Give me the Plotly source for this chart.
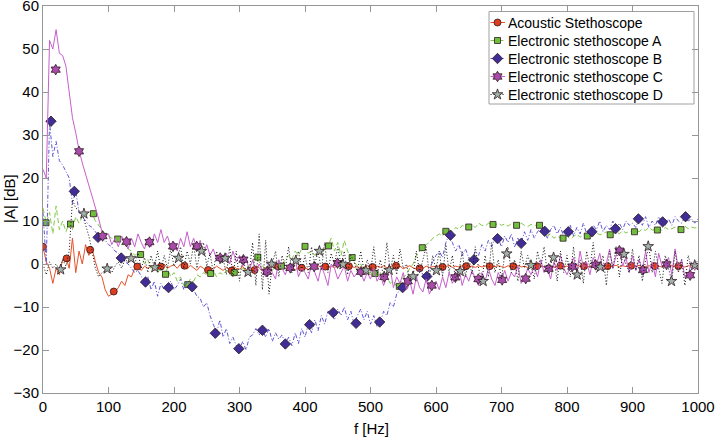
import plotly.graph_objects as go

# frequency grid of the sampled curves (Hz)
freq = list(range(0, 1001, 5))

acoustic = [
    4, 0.5, -1, -4.5, -1, -2.5, 1, 1.5, -1, 6, -2, 3, 0, 4.5, 2, 3.5, 0.5, -2, -3, -6,
    -7.5, -7, -6.5, -5.5, -4, -5, -2.5, -3, -1, -0.5, -1.5, -0.5, -1, -0.5, -1.5, -0.5, -1, 0, -1, -0.5,
    -0.2, -1, 0, -0.5, -1.2, -0.3, -1, -1.5, -0.5, -1, -1.8, -0.8, -1.2, -0.5, -1, -1.5, -0.8, -1.2, -0.5, -1,
    -1.2, -0.6, -1.5, -1, -1.4, -0.4, -0.9, -1.6, -0.8, -1.2, -0.5, -1, -1.3, -0.7, -1.1, -0.6, -0.9, -1.4, -0.8, -0.5,
    -0.9, -1.3, -0.6, -1, -0.4, -0.8, -0.6, -1.1, -0.5, -0.9, -0.3, -0.7, -0.5, -1, -0.4, -0.8, -0.6, -1.1, -0.7, -0.4,
    -0.7, -1, -0.5, -0.8, -0.4, -0.9, -0.6, -0.3, -0.8, -0.5, -1.1, -0.7, -0.4, -0.9, -1.2, -0.6, -1, -0.5, -0.8, -0.6,
    -0.7, -0.4, -0.9, -0.6, -0.3, -0.8, -0.5, -0.7, -0.4, -0.9, -0.6, -0.5, -0.8, -0.4, -0.7, -0.5, -0.3, -0.8, -0.6, -0.4,
    -0.6, -0.8, -0.4, -0.7, -0.5, -0.3, -0.7, -0.5, -0.8, -0.4, -0.6, -0.5, -0.3, -0.7, -0.5, -0.4, -0.8, -0.5, -0.3, -0.6,
    -0.5, -0.7, -0.4, -0.3, -0.6, -0.5, -0.8, -0.4, -0.6, -0.3, -0.5, -0.7, -0.4, -0.6, -0.5, -0.3, -0.7, -0.4, -0.6, -0.5,
    -0.4, -0.6, -0.3, -0.7, -0.5, -0.4, -0.6, -0.3, -0.5, -0.7, -0.4, -0.5, -0.3, -0.6, -0.4, -0.5, -0.7, -0.4, -0.5, -0.3,
    -0.5,
]

steth_a = [
    13, 9.6, 12, 7, 13.5, 8, 10, 7.5, 9.5, 8, 11, 9.5, 11, 12, 11, 11.8, 10, 9, 8, 7,
    6.5, 6, 5.8, 5.5, 4.5, 4.5, 3.5, 3, 2, 2.5, 2, 0, 1, -1, 0, -2, -1, -2.5, -1, -3,
    -2, -4, -3, -5, -4.8, -3.5, -4, -2.5, -3, -2, -2.5, -2.2, -1.5, -3, -2, -2.5, -1.5, -2.5, -2, -1.5,
    -2, -1, -1.5, -0.5, 0.5, 1.5, 0.5, -0.5, -1, 0, -1.5, -0.5, -1, 0, 1, 2, 1, 3, 2, 3.5,
    4, 2.5, 3, 2, 3.5, 2.5, 4.5, 4.2, 6, 3, 5, 2, 5.5, 3, 1.5, 0.5, -0.5, 0, -1.5, -1,
    -2.5, -2.2, -3, -2, -3.5, -3, -4.5, -4, -5.2, -5, -3, -2.5, -1, 0, 2, 3, 3.8, 4.5, 5, 6,
    6.5, 7, 6.5, 7.6, 8, 7.5, 8.5, 8, 9, 8.5, 8.6, 9, 8.5, 9.5, 9, 8.8, 9.5, 9.2, 9, 9.5,
    9, 9.3, 8.8, 9.4, 9, 9, 9.5, 9, 8.7, 9.2, 9, 9, 8.5, 7.5, 6.5, 7, 6, 6.5, 6, 6,
    6.5, 5.8, 6.5, 7, 6.2, 6.8, 6.5, 7, 6.5, 7.2, 6.8, 7, 7.5, 6.8, 7.2, 7.5, 7, 7.8, 7.2, 7.6,
    7.5, 8, 7.5, 8.2, 7.8, 8.5, 7.9, 8, 8.3, 7.8, 8.5, 8, 8.2, 8.6, 8, 8.3, 8.8, 8.2, 8.6, 8.4,
    8.5,
]

steth_b = [
    12, 0, 33, 25, 28.5, 24, 23, 21.5, 20, 14, 17, 12, 11, 10, 9, 8.5, 7.5, 6.5, 6, 5.5,
    4.5, 4, 3, 2.5, 1.5, 0.5, 0, -1, -2, -1.5, -3, -4.2, -3, -6, -4, -7.5, -4.5, -6, -5.5, -4,
    -6, -5, -3.5, -6, -4, -5.3, -6, -7.5, -8, -10, -9, -12, -14, -16, -13, -17, -15, -18.5, -17, -19,
    -19.7, -18, -20, -17, -16.5, -15, -16.5, -15.4, -17, -15, -18, -16, -17.5, -16.5, -18.6, -17, -19, -16, -18.5, -15,
    -17, -14, -16, -13, -15.5, -12, -14, -11, -11.3, -13, -10.5, -12, -10, -13, -11, -14, -12, -10.5, -13, -11,
    -14, -12, -14.5, -13.5, -11, -12, -9, -10, -7, -6, -5.5, -4, -5, -2, -3.5, -1, -2.5, -2.9, -1, 0.5,
    2, 3, 1.5, 5, 6.7, 5, 3, 4.5, 2, 3.5, 1.5, 1, 3, 2, 4.5, 3, 5.5, 4, 6, 5.9,
    4, 6.5, 5, 7, 4, 6, 4.8, 7.5, 5.5, 8, 6, 7.5, 8.5, 7.6, 6, 8, 9, 7, 8.5, 6.5,
    7.5, 9, 6.5, 8.5, 7, 9.5, 7, 7.5, 9, 8, 10, 7.5, 9, 8, 10, 8.2, 9.5, 8, 10, 9,
    9.5, 8.5, 10.5, 9, 11, 8.5, 10, 9, 11, 9.8, 9, 10.5, 9, 11, 10, 9.5, 11, 10, 10.5, 9.5,
    10.5,
]

steth_c = [
    22, 20, 52, 50, 54.5, 49, 48.5, 46, 40, 34, 30.5, 26.5, 23.5, 21, 18, 16, 13, 10.5, 7.5, 6.5,
    7, 4.5, 6, 4, 6.5, 5, 3.5, 6, 4, 7, 5, 3.5, 6, 4, 7, 5, 8, 5, 6.5, 4,
    5, 3, 6, 4, 7.5, 4, 6, 3.5, 5.5, 2.5, 4.5, 2, 3.5, 1, 2, 0.5, 2.5, 0, 3, 0.5,
    2, -0.5, 1.5, -1.5, 1, -2, 0, -1.5, -3, 0.5, -2, -3.5, 1, -1, -2.5, 0, -1.5, 1.5, -3, -1,
    -2, -3.5, 0, -2, -4, -0.5, -2.5, -5, 0, -1, -3.5, -2, -0.5, -4, -1.5, -3, -2, -1.8, -4, -2,
    -3.5, -1, -4, -2.5, -5, -3, -1, -5.5, -3, -4.5, -2, -6, -4, -7, -3, -5.5, -6.5, -3.5, -7, -5,
    -4, -6, -3, -5.5, -2, -4.5, -3, -1, -5, -2.5, -4, -1.5, -3.5, -5, -2, -4, -1, -3.5, -5, -2,
    -3.7, -1.5, -4, -2, -3, -0.5, -4.5, -3.4, -1, -2.5, -0.5, -3, 1, -2, -1, -3.5, 0.5, -1.5, 2, -1,
    -2.5, -0.6, 1.5, -2, 3, -1, 0.5, -2.5, 1.5, -0.2, 2.5, -1.5, 0, 3.5, -1, 2, 3.1, -0.5, 1.5, -2,
    2, -1.5, 1, -1.4, 3, -2, 0.5, -3, 2.5, -0.5, -0.1, 1.5, -2.5, 3.5, -1, 1, -3, -2.6, 0.5, -1.5,
    0,
]

steth_d = [
    0, -2.5, 0.5, -1, 0, -1.3, 1, -0.5, 3, 15, 13, 12.5, 11.7, 9, 6.5, 3, -1, -3, -2, -1.5,
    -1, -2, -0.5, 0.5, -1, 1, 0.5, 1.5, 0, 2.5, -1, 1.5, -2, 2, -0.8, 3, -1.5, 2, -1, 3.5,
    -0.5, 1.4, 4, -1, 3, 0, 4.5, -1, 3, 5, -0.5, 2.5, -2, 3, 0, 1.3, -2.5, 4, -3, 3,
    -4, 2, -2, -1.8, 5, -5, 7, -6, 5.5, -7, 0, 3, -3, 2, -1, 4, -2, 0.8, 3, -1.5,
    2, -2, 4, 0, 3, -1.5, 5, -2, 2.5, 0, 4, -0.1, 3, -2.5, 2, 0.5, -2, 3, -1.5, 1,
    -2, 4, -2.5, 1, -3, 5, -1.4, 2, -2.5, 3.5, -1, 0, -4, -2.9, 3, -2, 1, 4, -3, 2,
    -1.5, 3, -3, 4.5, -2, 2, -4, -1.7, 3, -3, 1.5, -2.5, 4, -1, -4, 2, -3, 5, -2, 1,
    -3.5, 2.4, 4, -2, 1, -4, 3, -1, 2, -0.3, -3.5, 3, -1, 4, -2, 0, 1.5, -4, 3, -2,
    2, -3, 4, -2.5, 1, -4.5, 3, -1, 5, -2, -0.7, 2, -5, 3, -1, 4, -3, 2.3, 0, -2,
    3.5, -1.5, 2, -4, 1, 4, -2, 3, -1, -4.5, 2, -1, -4, 3, -2, 1, -5, 2, -1, -0.3,
    1,
]

# marker positions (Hz) and levels (dB)
acoustic_mk_f = [0, 36, 72, 108, 144, 180, 216, 252, 288, 323, 359, 395, 431, 467,
                 503, 539, 575, 610, 646, 682, 718, 754, 790, 826, 862, 898, 934, 970]
acoustic_mk_db = [4, 1.3, 3.3, -6.4, -0.6, -0.6, -0.4, -1.4, -1.5, -1.4, -0.6, -0.9, -0.6, -0.5,
                  -0.7, -0.4, -1, -0.7, -0.5, -0.5, -0.5, -0.5, -0.4, -0.5, -0.5, -0.4, -0.5, -0.5]

a_mk_f = [4.6, 42, 77, 114, 149, 187, 221, 256, 292, 328, 364, 400, 436, 472,
          507, 544, 579, 615, 650, 687, 723, 758, 794, 831, 866, 903, 938, 974]
a_mk_db = [9.6, 9.3, 11.7, 5.8, 2.2, -2.4, -4.8, -2.2, -2, 1.6, -0.5, 4.1, 4.2, 1.5,
           -2.2, -5.2, 3.8, 7.6, 8.6, 9.2, 9.0, 9.0, 6, 6.5, 6.8, 7.5, 7.9, 8.0]

b_mk_f = [12.2, 47.8, 84, 119.5, 156.5, 191.6, 227.7, 263, 299, 335, 370, 407, 443, 478,
          514, 549, 586, 622, 658, 694, 730, 766, 802, 838, 874, 909, 946, 981]
b_mk_db = [33.2, 16.9, 6.2, 1.4, -4.2, -5.5, -5.3, -16.1, -19.7, -15.4, -18.6, -14.1, -11.3, -13.8,
           -13.5, -5.5, -2.9, 6.7, 1.0, 5.9, 4.8, 7.6, 7.5, 7.5, 8.2, 10.5, 9.8, 11.0]

c_mk_f = [19.4, 55, 91, 127.5, 162.6, 198.5, 234.7, 270.5, 306, 342, 377.6, 414, 449.7, 485.5,
          521, 557, 593.6, 629.6, 664.6, 701, 737, 772, 808, 843.6, 880, 916, 952, 988]
c_mk_db = [45.2, 26.2, 6.5, 5.2, 5.1, 4.1, 4.1, 1.4, 1.0, -1.8, -0.9, -0.6, 0.2, -1.8,
           -3, -4, -5, -3.1, -3.5, -3.7, -3.4, -1.1, -0.6, -0.2, 3.1, -1.4, -0.1, -2.6]

d_mk_f = [27, 62.5, 98, 134.5, 170.8, 207, 242, 278, 313, 349, 386, 422, 458, 493,
          528.5, 565, 600.6, 637, 672, 708, 745, 779.5, 815.6, 851, 887, 924, 959.5, 995]
d_mk_db = [-1.3, 11.7, -1.1, 1.3, -0.8, 1.4, 3.0, 1.3, -1.9, 0, 0.8, 3, -0.1, -1.5,
           -1.4, -2.9, -1.5, -1.7, -4, 2.4, -0.3, 1.5, -2.5, -0.7, 2.3, 4.1, -4, -0.3]

series_names = ["Acoustic Stethoscope", "Electronic stethoscope A", "Electronic stethoscope B",
                "Electronic stethoscope C", "Electronic stethoscope D"]
x_ticks = [0, 100, 200, 300, 400, 500, 600, 700, 800, 900, 1000]
y_ticks = [-30, -20, -10, 0, 10, 20, 30, 40, 50, 60]

FONT = "Arial, Liberation Sans, sans-serif"
EDGE = "rgb(45,25,30)"
styles = [
    dict(line="rgb(232,80,40)", dash="solid", sym="circle", fill="rgb(222,62,32)", size=7),
    dict(line="rgb(130,200,70)", dash="5px,3px", sym="square", fill="rgb(112,190,62)", size=6),
    dict(line="rgb(95,85,215)", dash="4px,2px,1px,2px", sym="diamond", fill="rgb(65,45,150)", size=8),
    dict(line="rgb(198,95,205)", dash="solid", sym="hexagram", fill="rgb(168,75,170)", size=8),
    dict(line="rgb(20,20,20)", dash="1px,2px", sym="star", fill="rgb(160,178,170)", size=8),
]
curves = [acoustic, steth_a, steth_b, steth_c, steth_d]
markers = [(acoustic_mk_f, acoustic_mk_db), (a_mk_f, a_mk_db), (b_mk_f, b_mk_db),
           (c_mk_f, c_mk_db), (d_mk_f, d_mk_db)]

fig = go.Figure()
for name, y, (mf, mdb), st in zip(series_names, curves, markers, styles):
    fig.add_trace(go.Scatter(x=freq, y=y, mode="lines", name=name, showlegend=False,
                             line=dict(color=st["line"], width=1, dash=st["dash"])))
    fig.add_trace(go.Scatter(x=mf, y=mdb, mode="markers", name=name, showlegend=False,
                             marker=dict(symbol=st["sym"], size=st["size"], color=st["fill"],
                                         line=dict(color=EDGE, width=0.8))))

# ---- hand-drawn MATLAB-style legend on an overlay axis measured in pixels ----
L, R, T, B = 43, 698, 6, 393          # plot-area pixel box
box_x0, box_x1, box_y0, box_y1 = 489, 694, 11.5, 104
row_y = [22.5, 40.5, 58.5, 76.5, 94.5]
fig.add_trace(go.Scatter(x=[box_x0, box_x1, box_x1, box_x0, box_x0],
                         y=[box_y0, box_y0, box_y1, box_y1, box_y0],
                         xaxis="x2", yaxis="y2", mode="lines", fill="toself",
                         fillcolor="white", line=dict(color="rgb(160,160,160)", width=1),
                         showlegend=False, hoverinfo="skip"))
for name, st, ry in zip(series_names, styles, row_y):
    fig.add_trace(go.Scatter(x=[490.5, 505], y=[ry, ry], xaxis="x2", yaxis="y2", mode="lines",
                             line=dict(color=st["line"], width=1, dash=st["dash"]),
                             showlegend=False, hoverinfo="skip"))
    fig.add_trace(go.Scatter(x=[497.5], y=[ry], xaxis="x2", yaxis="y2", mode="markers",
                             marker=dict(symbol=st["sym"], size=st["size"], color=st["fill"],
                                         line=dict(color=EDGE, width=0.8)),
                             showlegend=False, hoverinfo="skip"))
    fig.add_annotation(x=506, y=ry, xref="x2", yref="y2", text=name, showarrow=False,
                       xanchor="left", yanchor="middle", font=dict(family=FONT, size=14, color="black"))

axis_common = dict(showline=True, linecolor="rgb(150,150,150)", linewidth=1, mirror="ticks",
                   ticks="inside", ticklen=6, tickcolor="rgb(150,150,150)", showgrid=False,
                   zeroline=False, automargin=False, ticklabeloverflow="allow",
                   tickfont=dict(family=FONT, size=15, color="black"))

fig.update_layout(
    width=715, height=438,
    margin=dict(l=L, r=715 - R, t=T, b=438 - B),
    paper_bgcolor="white", plot_bgcolor="white",
    font=dict(family=FONT, size=15, color="black"),
    showlegend=False,
    xaxis=dict(range=[0, 1000], tickvals=x_ticks, **axis_common),
    yaxis=dict(range=[-30, 60], tickvals=y_ticks, **axis_common),
    xaxis2=dict(range=[L, R], overlaying="x", anchor="y2", visible=False, fixedrange=True),
    yaxis2=dict(range=[B, T], overlaying="y", anchor="x2", visible=False, fixedrange=True),
)
fig.add_annotation(x=(371 - L) / (R - L), y=(B - 428) / (B - T), xref="paper", yref="paper",
                   text="f [Hz]", showarrow=False, xanchor="center", yanchor="middle",
                   font=dict(family=FONT, size=15, color="black"))
fig.add_annotation(x=(10 - L) / (R - L), y=(B - 199) / (B - T), xref="paper", yref="paper",
                   text="|A| [dB]", showarrow=False, textangle=-90, xanchor="center", yanchor="middle",
                   font=dict(family=FONT, size=15, color="black"))

fig.write_html("out.html", config={"displayModeBar": False},
               post_script="document.body.style.margin='0';document.body.style.overflow='hidden';")
